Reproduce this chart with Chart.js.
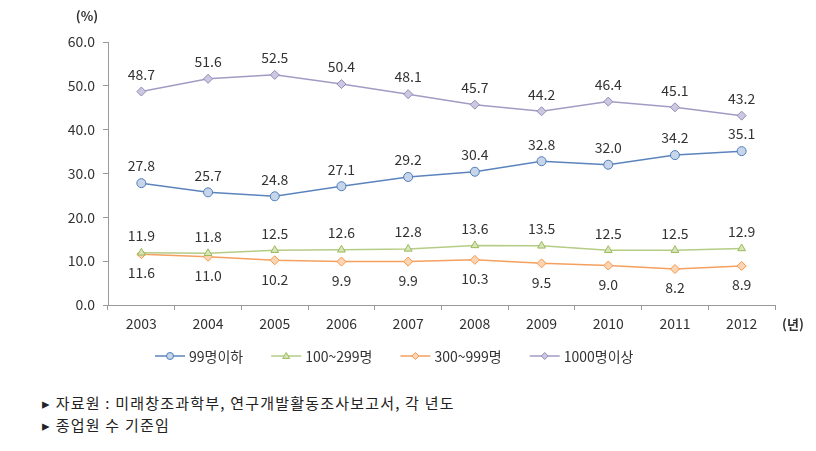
<!DOCTYPE html>
<html>
<head>
<meta charset="utf-8">
<script src="https://cdn.jsdelivr.net/npm/chart.js@4"></script>
<style>
  body { margin: 0; background: #fff; font-family: "Noto Sans CJK KR", sans-serif; }
  #wrap { width: 816px; height: 380px; position: relative; }
  .note { position: absolute; left: 42px; font-size: 15px; color: #222; letter-spacing: 1.2px; }
</style>
</head>
<body>
<div id="wrap"><canvas id="myChart" width="816" height="380"></canvas></div>
<div class="note" style="top:392px">▸ 자료원 : 미래창조과학부, 연구개발활동조사보고서, 각 년도</div>
<div class="note" style="top:414px">▸ 종업원 수 기준임</div>
<script>
const years = ["2003", "2004", "2005", "2006", "2007", "2008", "2009", "2010", "2011", "2012"];
const seriesNames = ["99명이하", "100~299명", "300~999명", "1000명이상"];
const small = [27.8, 25.7, 24.8, 27.1, 29.2, 30.4, 32.8, 32.0, 34.2, 35.1];
const mid = [11.9, 11.8, 12.5, 12.6, 12.8, 13.6, 13.5, 12.5, 12.5, 12.9];
const large = [11.6, 11.0, 10.2, 9.9, 9.9, 10.3, 9.5, 9.0, 8.2, 8.9];
const huge = [48.7, 51.6, 52.5, 50.4, 48.1, 45.7, 44.2, 46.4, 45.1, 43.2];
const labelBelow = [false, false, true, false];

const lineColors = ["#5b84bd", "#b5cc86", "#f4a060", "#a09cc4"];
const pointFill = ["#c6d5ea", "#d7e4bc", "#fcd5b5", "#ccc8e0"];
const pointBorder = ["#4f7db8", "#9bbb59", "#f79646", "#8f8ab8"];
const pointStyles = ["circle", "triangle", "rectRot", "rectRot"];
const font = "Noto Sans CJK KR";

const dataLabels = {
  id: "dataLabels",
  afterDatasetsDraw(chart) {
    const c = chart.ctx;
    c.save();
    c.font = "14px '" + font + "'";
    c.fillStyle = "#333";
    c.textAlign = "center";
    c.textBaseline = "middle";
    chart.data.datasets.forEach((ds, i) => {
      chart.getDatasetMeta(i).data.forEach((pt, j) => {
        const dy = labelBelow[i] ? 19 : -17;
        c.fillText(ds.data[j].toFixed(1), pt.x, pt.y + dy);
      });
    });
    c.restore();
  },
};

const extras = {
  id: "extras",
  afterDraw(chart) {
    const c = chart.ctx;
    c.save();
    c.font = "bold 13px '" + font + "'";
    c.fillStyle = "#333";
    c.textAlign = "center";
    c.textBaseline = "middle";
    c.fillText("(%)", 87, 16);
    c.fillText("(년)", 793, 324);
    // legend
    let x = 155;
    const y = 356;
    c.textAlign = "left";
    c.font = "14px '" + font + "'";
    chart.data.datasets.forEach((ds, i) => {
      c.strokeStyle = lineColors[i];
      c.lineWidth = 1.5;
      c.beginPath();
      c.moveTo(x, y);
      c.lineTo(x + 30, y);
      c.stroke();
      c.fillStyle = pointFill[i];
      c.strokeStyle = pointBorder[i];
      c.lineWidth = 1;
      c.beginPath();
      const px = x + 15, r = 3.5;
      if (i === 0) c.arc(px, y, r, 0, Math.PI * 2);
      else if (i === 1) { c.moveTo(px, y - r); c.lineTo(px + r, y + r * 0.7); c.lineTo(px - r, y + r * 0.7); c.closePath(); }
      else { c.moveTo(px, y - r); c.lineTo(px + r, y); c.lineTo(px, y + r); c.lineTo(px - r, y); c.closePath(); }
      c.fill();
      c.stroke();
      c.fillStyle = "#333";
      c.fillText(ds.label, x + 34, y + 1);
      x += 34 + c.measureText(ds.label).width + 28;
    });
    c.restore();
  },
};

const ctx = document.getElementById("myChart");
new Chart(ctx, {
  type: "line",
  data: {
    labels: years,
    datasets: [small, mid, large, huge].map((d, i) => ({
      label: seriesNames[i],
      data: d,
      borderColor: lineColors[i],
      borderWidth: 1.5,
      backgroundColor: pointFill[i],
      pointBackgroundColor: pointFill[i],
      pointBorderColor: pointBorder[i],
      pointBorderWidth: 1,
      pointStyle: pointStyles[i],
      pointRadius: 4.5,
      tension: 0,
    })),
  },
  options: {
    responsive: false,
    animation: false,
    layout: { padding: { top: 42, right: 41, bottom: 40, left: 0 } },
    plugins: {
      legend: { display: false },
      tooltip: { enabled: false },
    },
    scales: {
      x: {
        offset: true,
        grid: { offset: true, drawOnChartArea: false, tickLength: 5, color: "#9a9a9a" },
        border: { color: "#9a9a9a" },
        ticks: { color: "#333", font: { family: font, size: 14 }, padding: 5 },
        afterFit: (s) => { s.height = 35; },
      },
      y: {
        min: 0,
        max: 60,
        ticks: { stepSize: 10, color: "#333", font: { family: font, size: 14 }, padding: 8,
          callback: (v) => v.toFixed(1) },
        grid: { drawOnChartArea: false, tickLength: 5, color: "#9a9a9a" },
        border: { color: "#9a9a9a" },
        afterFit: (s) => { s.width = 108; },
      },
    },
  },
  plugins: [dataLabels, extras],
});
</script>
</body>
</html>
